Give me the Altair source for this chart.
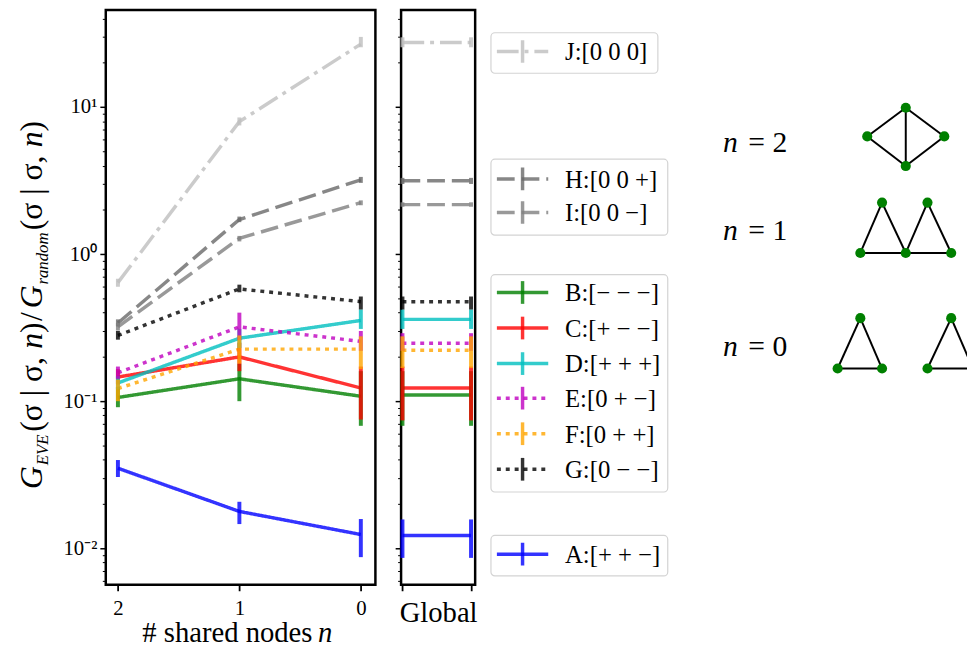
import altair as alt
import pandas as pd

SERIF = "Liberation Serif"

series_keys = ["A", "B", "C", "D", "E", "F", "G", "H", "I", "J"]
labels = ["A:[+ + −]", "B:[− − −]", "C:[+ − −]", "D:[+ + +]", "E:[0 + −]",
          "F:[0 + +]", "G:[0 − −]", "H:[0 0 +]", "I:[0 0 −]", "J:[0 0 0]"]
colors = ["#0000ff", "#008000", "#ff0000", "#00bfbf", "#bf00bf",
          "#ffa500", "#000000", "#696969", "#808080", "#bebebe"]
dashes = [[1, 0], [1, 0], [1, 0], [1, 0], [4, 5], [4, 5], [4, 5],
          [18, 7], [18, 7], [22, 6, 4, 6]]

n_shared = [2, 1, 0]

A_val = [0.035, 0.0178, 0.0124]
A_lo = [0.0305, 0.0146, 0.0087]
A_hi = [0.0398, 0.0207, 0.0158]
B_val = [0.106, 0.142, 0.108]
B_lo = [0.091, 0.100, 0.068]
B_hi = [0.125, 0.180, 0.160]
C_val = [0.146, 0.200, 0.123]
C_lo = [0.130, 0.160, 0.075]
C_hi = [0.165, 0.250, 0.172]
D_val = [0.133, 0.268, 0.354]
D_lo = [0.120, 0.230, 0.310]
D_hi = [0.148, 0.310, 0.420]
E_val = [0.156, 0.320, 0.255]
E_lo = [0.142, 0.260, 0.220]
E_hi = [0.172, 0.400, 0.300]
F_val = [0.122, 0.226, 0.226]
F_lo = [0.100, 0.180, 0.165]
F_hi = [0.140, 0.280, 0.276]
G_val = [0.280, 0.580, 0.475]
G_lo = [0.262, 0.550, 0.420]
G_hi = [0.300, 0.620, 0.515]
H_val = [0.340, 1.72, 3.20]
H_lo = [0.322, 1.65, 3.05]
H_hi = [0.360, 1.80, 3.35]
I_val = [0.320, 1.28, 2.24]
I_lo = [0.302, 1.22, 2.15]
I_hi = [0.340, 1.33, 2.32]
J_val = [0.640, 7.96, 26.8]
J_lo = [0.600, 7.50, 25.5]
J_hi = [0.680, 8.50, 30.0]

global_val = [0.0122, 0.110, 0.123, 0.360, 0.248, 0.222, 0.475, 3.15, 2.17, 27.5]
global_lo = [0.0086, 0.068, 0.074, 0.310, 0.220, 0.168, 0.420, 3.00, 2.10, 25.5]
global_hi = [0.0157, 0.160, 0.172, 0.420, 0.290, 0.276, 0.515, 3.30, 2.25, 29.8]
global_x = [0, 1]

legend_row_y = [561, 296, 332, 368, 403, 439, 475, 181, 215, 52]
legend_box_x0 = [487, 487, 487, 487]
legend_box_x1 = [656, 666, 666, 666]
legend_box_y0 = [33, 161, 278, 542]
legend_box_y1 = [74, 238, 498, 583]
legend_sym_x = [493, 545]
legend_bar_x = 519
legend_bar_half = 11.5
legend_text_x = 562

y_tick_values = [0.006, 0.007, 0.008, 0.009,
                 0.01, 0.02, 0.03, 0.04, 0.05, 0.06, 0.07, 0.08, 0.09,
                 0.1, 0.2, 0.3, 0.4, 0.5, 0.6, 0.7, 0.8, 0.9,
                 1, 2, 3, 4, 5, 6, 7, 8, 9,
                 10, 20, 30, 40]

ytitle_text = ["G", "EVE", "(σ | σ, ", "n", ")", "/", "G", "random", "(σ | σ, ", "n", ")"]
ytitle_start = [495, 471, 437, 353, 337, 325, 312, 288, 233, 149, 133]
ytitle_italic = [True, True, False, True, False, False, True, True, False, True, False]
ytitle_size = [32, 17, 32, 32, 32, 32, 32, 17, 32, 32, 32]
ytitle_base = [40, 46, 40, 40, 40, 40, 40, 46, 40, 40, 40]

diag_n = ["2", "1", "0"]
diag_label_y = [154, 243, 360]
node_x = [907, 868, 946, 907, 883, 929, 861, 907, 953, 861, 838, 883, 953, 929, 975]
node_y = [109, 138, 138, 168, 205, 205, 256, 256, 256, 322, 373, 373, 322, 373, 373]
edge_a = [0, 0, 0, 1, 2, 4, 4, 6, 5, 5, 7, 9, 9, 10, 12, 12, 13]
edge_b = [1, 2, 3, 3, 3, 6, 7, 7, 7, 8, 8, 10, 11, 11, 13, 14, 14]

vals = {"A": (A_val, A_lo, A_hi), "B": (B_val, B_lo, B_hi), "C": (C_val, C_lo, C_hi),
        "D": (D_val, D_lo, D_hi), "E": (E_val, E_lo, E_hi), "F": (F_val, F_lo, F_hi),
        "G": (G_val, G_lo, G_hi), "H": (H_val, H_lo, H_hi), "I": (I_val, I_lo, I_hi),
        "J": (J_val, J_lo, J_hi)}
rows = []
for k, lab in zip(series_keys, labels):
    v, lo, hi = vals[k]
    for j, n in enumerate(n_shared):
        rows.append({"key": k, "label": lab, "n": n, "val": v[j], "lo": lo[j], "hi": hi[j]})
ldf = pd.DataFrame(rows)

grows = []
for i, (k, lab) in enumerate(zip(series_keys, labels)):
    for gx in global_x:
        grows.append({"key": k, "label": lab, "x": gx, "val": global_val[i],
                      "lo": global_lo[i], "hi": global_hi[i]})
gdf = pd.DataFrame(grows)

legdf = pd.DataFrame({"label": labels, "ry": legend_row_y,
                      "sx0": [legend_sym_x[0]] * 10, "sx1": [legend_sym_x[1]] * 10,
                      "bx": [legend_bar_x] * 10,
                      "by0": [y - legend_bar_half for y in legend_row_y],
                      "by1": [y + legend_bar_half for y in legend_row_y],
                      "tx": [legend_text_x] * 10})
boxdf = pd.DataFrame({"x0": legend_box_x0, "x1": legend_box_x1,
                      "y0": legend_box_y0, "y1": legend_box_y1})

PLOT_H = 582
color_scale = alt.Scale(domain=labels, range=colors)
dash_scale = alt.Scale(domain=labels, range=dashes)
y_scale = alt.Scale(type="log", domain=[0.00564, 45.7], nice=False)
major = "datum.value == 0.01 || datum.value == 0.1 || datum.value == 1 || datum.value == 10"
label_expr = ("datum.value == 0.01 ? '10⁻²' : datum.value == 0.1 ? '10⁻¹' : "
              "datum.value == 1 ? '10⁰' : datum.value == 10 ? '10¹' : ''")
tick_size = {"condition": {"test": major, "value": 6}, "value": 3.5}
tick_width = {"condition": {"test": major, "value": 1.5}, "value": 1}

ly_axis = alt.Axis(values=y_tick_values, labelExpr=label_expr, title=None,
                   tickSize=tick_size, tickWidth=tick_width, labelPadding=3,
                   labelFont=SERIF, labelFontSize=21, labelColor="black",
                   tickColor="black", domain=False, grid=False, labelOverlap=False)
gy_axis = alt.Axis(values=y_tick_values, labels=False, title=None,
                   tickSize=tick_size, tickWidth=tick_width,
                   tickColor="black", domain=False, grid=False)
lx_scale = alt.Scale(domain=[2.1, -0.12], nice=False, zero=False)
lx_axis = alt.Axis(values=n_shared, format="d", title=None, tickSize=6, tickWidth=1.8,
                   labelPadding=7, labelFont=SERIF, labelFontSize=21, labelColor="black",
                   tickColor="black", domain=False, grid=False, labelFlush=False)
gx_scale = alt.Scale(domain=[-0.02, 1.06], nice=False, zero=False)
gx_axis = alt.Axis(values=global_x, labels=False, title="Global", tickSize=6, tickWidth=1.8,
                   tickColor="black", domain=False, grid=False, titleFont=SERIF,
                   titleFontSize=29, titleFontWeight="normal", titleColor="black",
                   titlePadding=7)

left_lines = alt.Chart(ldf).mark_line(strokeWidth=3.5, opacity=0.8).encode(
    x=alt.X("n:Q", scale=lx_scale, axis=lx_axis),
    y=alt.Y("val:Q", scale=y_scale, axis=ly_axis),
    color=alt.Color("label:N", scale=color_scale, legend=None),
    strokeDash=alt.StrokeDash("label:N", scale=dash_scale, legend=None),
)
left_bars = alt.Chart(ldf).mark_rule(strokeWidth=4, opacity=0.8).encode(
    x=alt.X("n:Q", scale=lx_scale, axis=lx_axis),
    y=alt.Y("lo:Q", scale=y_scale, axis=ly_axis),
    y2="hi:Q",
    color=alt.Color("label:N", scale=color_scale, legend=None),
)

dummy = pd.DataFrame({"k": [0]})
OX, OY = 105, 10
title_layers = []
for t, s, it, sz, b in zip(ytitle_text, ytitle_start, ytitle_italic, ytitle_size, ytitle_base):
    title_layers.append(
        alt.Chart(dummy).mark_text(text=t, angle=270, align="left", baseline="alphabetic",
                                   font=SERIF, fontSize=sz,
                                   fontStyle="italic" if it else "normal", color="black")
        .encode(x=alt.value(b - OX), y=alt.value(s - OY))
    )
XT_BASE = 650
xtitle_main = alt.Chart(dummy).mark_text(text="# shared nodes", align="left", baseline="alphabetic",
                                         font=SERIF, fontSize=29, color="black").encode(
    x=alt.value(142 - OX), y=alt.value(XT_BASE - OY))
xtitle_n = alt.Chart(dummy).mark_text(text="n", align="left", baseline="alphabetic",
                                      font=SERIF, fontSize=29, fontStyle="italic", color="black").encode(
    x=alt.value(320 - OX), y=alt.value(XT_BASE - OY))

left = alt.layer(left_lines, left_bars, *title_layers, xtitle_main, xtitle_n).properties(
    width=273, height=PLOT_H)

g_lines = alt.Chart(gdf).mark_line(strokeWidth=3.5, opacity=0.8).encode(
    x=alt.X("x:Q", scale=gx_scale, axis=gx_axis),
    y=alt.Y("val:Q", scale=y_scale, axis=gy_axis),
    color=alt.Color("label:N", scale=color_scale, legend=None),
    strokeDash=alt.StrokeDash("label:N", scale=dash_scale, legend=None),
)
g_bars = alt.Chart(gdf).mark_rule(strokeWidth=4, opacity=0.8).encode(
    x=alt.X("x:Q", scale=gx_scale, axis=gx_axis),
    y=alt.Y("lo:Q", scale=y_scale, axis=gy_axis),
    y2="hi:Q",
    color=alt.Color("label:N", scale=color_scale, legend=None),
)
glob = alt.layer(g_lines, g_bars).properties(width=75, height=PLOT_H)

RX0 = 482
ndf = pd.DataFrame({"x": node_x, "y": node_y})
edf = pd.DataFrame({"x": [node_x[a] for a in edge_a], "y": [node_y[a] for a in edge_a],
                    "x2": [node_x[b] for b in edge_b], "y2": [node_y[b] for b in edge_b]})
tdf = pd.DataFrame({"n": diag_n, "y": diag_label_y,
                    "xn": [722] * 3, "xeq": [756] * 3, "xd": [772] * 3})
rxs = alt.Scale(domain=[RX0, 975], nice=False, zero=False)
rys = alt.Scale(domain=[10 + PLOT_H, 10], nice=False, zero=False)

boxes = alt.Chart(boxdf).mark_rect(fill="white", stroke="#d3d3d3", strokeWidth=1.2,
                                   cornerRadius=4, clip=True).encode(
    x=alt.X("x0:Q", scale=rxs, axis=None), x2="x1:Q",
    y=alt.Y("y0:Q", scale=rys, axis=None), y2="y1:Q")
leg_lines = alt.Chart(legdf).mark_rule(strokeWidth=3.5, opacity=0.8, clip=True).encode(
    x=alt.X("sx0:Q", scale=rxs, axis=None), x2="sx1:Q",
    y=alt.Y("ry:Q", scale=rys, axis=None),
    color=alt.Color("label:N", scale=color_scale, legend=None),
    strokeDash=alt.StrokeDash("label:N", scale=dash_scale, legend=None))
leg_bars = alt.Chart(legdf).mark_rule(strokeWidth=3.5, opacity=0.8, clip=True).encode(
    x=alt.X("bx:Q", scale=rxs, axis=None),
    y=alt.Y("by0:Q", scale=rys, axis=None), y2="by1:Q",
    color=alt.Color("label:N", scale=color_scale, legend=None))
leg_text = alt.Chart(legdf).mark_text(align="left", baseline="middle", font=SERIF,
                                      fontSize=25, color="black", dy=1).encode(
    x=alt.X("tx:Q", scale=rxs, axis=None),
    y=alt.Y("ry:Q", scale=rys, axis=None),
    text="label:N")

edges = alt.Chart(edf).mark_rule(color="black", strokeWidth=2, clip=True).encode(
    x=alt.X("x:Q", scale=rxs, axis=None), y=alt.Y("y:Q", scale=rys, axis=None),
    x2="x2:Q", y2="y2:Q")
nodes = alt.Chart(ndf).mark_circle(color="#008000", size=105, opacity=1, clip=True).encode(
    x=alt.X("x:Q", scale=rxs, axis=None), y=alt.Y("y:Q", scale=rys, axis=None))
t_n = alt.Chart(tdf).mark_text(text="n", align="left", baseline="alphabetic", font=SERIF,
                               fontSize=30, fontStyle="italic", color="black").encode(
    x=alt.X("xn:Q", scale=rxs, axis=None), y=alt.Y("y:Q", scale=rys, axis=None))
t_eq = alt.Chart(tdf).mark_text(text="=", align="center", baseline="alphabetic", font=SERIF,
                                fontSize=30, color="black").encode(
    x=alt.X("xeq:Q", scale=rxs, axis=None), y=alt.Y("y:Q", scale=rys, axis=None))
t_d = alt.Chart(tdf).mark_text(align="left", baseline="alphabetic", font=SERIF,
                               fontSize=30, color="black").encode(
    x=alt.X("xd:Q", scale=rxs, axis=None), y=alt.Y("y:Q", scale=rys, axis=None),
    text="n:N")

right = alt.layer(boxes, leg_lines, leg_bars, leg_text, edges, nodes, t_n, t_eq, t_d).properties(
    width=975 - RX0, height=PLOT_H, view=alt.ViewBackground(strokeWidth=0, strokeOpacity=0))

inner = alt.hconcat(left, glob, spacing=16)
chart = alt.hconcat(inner, right, spacing=6).properties(
    padding={"left": 6, "top": -6, "right": -6, "bottom": 0}).configure_view(
    stroke="black", strokeWidth=2.5)

chart.save("out.html", embed_options={"renderer": "svg", "actions": False})
